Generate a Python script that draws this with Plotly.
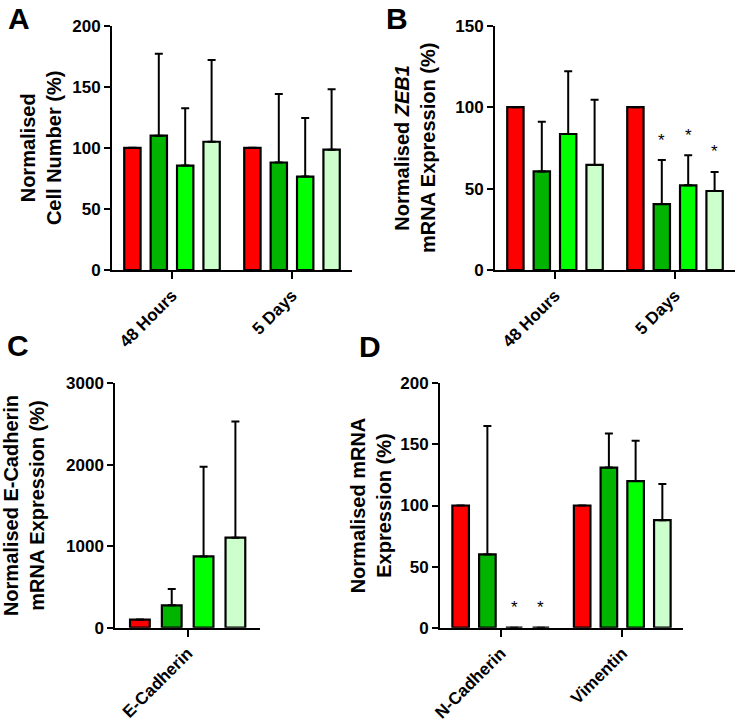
import plotly.graph_objects as go

# ---------------- data ----------------
colors = ["#FF0000", "#00B400", "#00FF00", "#CCFFCC"]

# Panel A
a_cats = ["48 Hours", "5 Days"]
a_means = [[100, 100], [110, 88], [85.5, 76.5], [105, 98.5]]
a_sd = [[0, 0], [67, 56], [47, 48], [67, 49.5]]
a_star = [[False, False], [False, False], [False, False], [False, False]]

# Panel B
b_cats = ["48 Hours", "5 Days"]
b_means = [[100, 100], [60.5, 40.5], [83.5, 52], [64.5, 48.5]]
b_sd = [[0, 0], [30.5, 27], [38.5, 18.5], [40, 11.7]]
b_star = [[False, False], [False, True], [False, True], [False, True]]

# Panel C
c_cats = ["E-Cadherin"]
c_means = [[100], [275], [875], [1105]]
c_sd = [[0], [200], [1100], [1425]]
c_star = [[False], [False], [False], [False]]

# Panel D
d_cats = ["N-Cadherin", "Vimentin"]
d_means = [[100, 100], [60, 131], [0, 120], [0, 88]]
d_sd = [[0, 0], [105, 28], [0, 33], [0, 29.5]]
d_star = [[False, False], [False, False], [True, False], [True, False]]

W, H = 738, 724
panels = [
    dict(label="A", cats=a_cats, means=a_means, sd=a_sd, star=a_star,
         yrange=[0, 200], dtick=50,
         title="Normalised<br>Cell Number (%)", standoff=5,
         px=[112, 352], py=[25.7, 270], lx=6, ly=0),
    dict(label="B", cats=b_cats, means=b_means, sd=b_sd, star=b_star,
         yrange=[0, 150], dtick=50,
         title="Normalised <i>ZEB1</i><br>mRNA Expression (%)", standoff=14,
         px=[495, 735], py=[25.7, 270], lx=384, ly=0),
    dict(label="C", cats=c_cats, means=c_means, sd=c_sd, star=c_star,
         yrange=[0, 3000], dtick=1000,
         title="Normalised E-Cadherin<br>mRNA Expression (%)", standoff=21,
         px=[115.3, 260], py=[383.3, 627.7], lx=5, ly=327),
    dict(label="D", cats=d_cats, means=d_means, sd=d_sd, star=d_star,
         yrange=[0, 200], dtick=50,
         title="Normalised mRNA<br>Expression (%)", standoff=3,
         px=[440, 683], py=[383.3, 627.7], lx=357, ly=328),
]

FONT = "Liberation Sans, Arial, sans-serif"
BARGAP = 0.12
GROUPGAP = 0.38
fig = go.Figure()
annotations = []
layout = {}

for i, p in enumerate(panels):
    n = i + 1
    xa = "x" if n == 1 else f"x{n}"
    ya = "y" if n == 1 else f"y{n}"
    ncat = len(p["cats"])
    cat_px = (p["px"][1] - p["px"][0]) / ncat
    slot_px = cat_px * (1 - BARGAP) / 4
    for s in range(4):
        fig.add_trace(go.Bar(
            x=p["cats"], y=p["means"][s],
            xaxis=xa, yaxis=ya,
            marker=dict(color=colors[s], line=dict(color="black", width=2.2)),
            error_y=dict(type="data", symmetric=False, array=p["sd"][s],
                         arrayminus=[0] * ncat,
                         color="black", thickness=2, width=4, visible=True),
            offsetgroup=str(s), showlegend=False,
        ))
        for j, c in enumerate(p["cats"]):
            if p["star"][s][j]:
                annotations.append(dict(
                    text="*", x=c, y=p["means"][s][j] + p["sd"][s][j],
                    xref=xa, yref=ya, showarrow=False,
                    xshift=(s - 1.5) * slot_px, yshift=20,
                    yanchor="middle",
                    font=dict(family=FONT, size=17, color="black")))
    axis_x = dict(domain=[p["px"][0] / W, p["px"][1] / W], anchor=ya, type="category",
                  range=[-0.5, ncat - 0.5], automargin=False,
                  showline=True, linecolor="black", linewidth=2,
                  ticks="outside", ticklen=7, tickwidth=2, tickcolor="black",
                  tickangle=-45, showgrid=False, zeroline=False,
                  tickfont=dict(family=FONT, size=17, color="black", weight="bold"))
    axis_y = dict(domain=[1 - p["py"][1] / H, 1 - p["py"][0] / H], anchor=xa,
                  range=p["yrange"], dtick=p["dtick"], automargin=False,
                  showline=True, linecolor="black", linewidth=2,
                  ticks="outside", ticklen=6, tickwidth=2, tickcolor="black",
                  showgrid=False, zeroline=False,
                  tickfont=dict(family=FONT, size=17, color="black", weight="bold"),
                  title=dict(text=p["title"], standoff=p["standoff"],
                             font=dict(family=FONT, size=20, color="black", weight="bold")))
    layout["xaxis" if n == 1 else f"xaxis{n}"] = axis_x
    layout["yaxis" if n == 1 else f"yaxis{n}"] = axis_y
    annotations.append(dict(text=p["label"], xref="paper", yref="paper",
                            x=p["lx"] / W, y=1 - p["ly"] / H,
                            xanchor="left", yanchor="top", showarrow=False,
                            font=dict(family=FONT, size=30, color="black", weight="bold")))

fig.update_layout(**layout)
fig.update_layout(
    width=W, height=H,
    margin=dict(l=0, r=0, t=0, b=0, autoexpand=False),
    paper_bgcolor="white", plot_bgcolor="white",
    barmode="group", bargap=BARGAP, bargroupgap=GROUPGAP,
    font=dict(family=FONT, size=17, color="black"),
    annotations=annotations,
    showlegend=False,
)

fig.write_html("out.html", config={"displayModeBar": False},
               post_script="document.body.style.margin='0';")
